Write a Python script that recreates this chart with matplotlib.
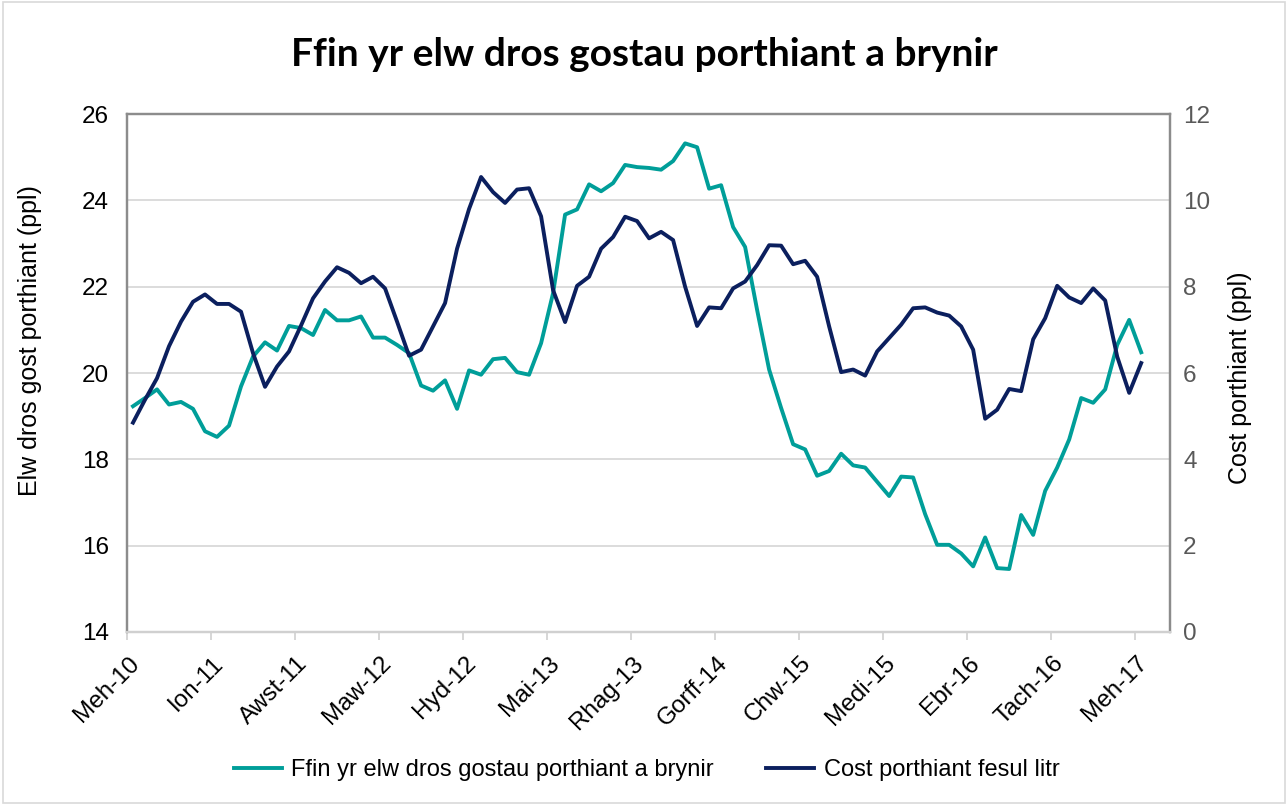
import matplotlib
matplotlib.use("Agg")
import matplotlib.pyplot as plt
import matplotlib.transforms as mtransforms
from matplotlib.patches import Rectangle

# ---- data ----
tick_labels = ["Meh-10", "Ion-11", "Awst-11", "Maw-12", "Hyd-12", "Mai-13", "Rhag-13",
               "Gorff-14", "Chw-15", "Medi-15", "Ebr-16", "Tach-16", "Meh-17"]

margin = [19.23, 19.42, 19.62, 19.27, 19.33, 19.17, 18.65, 18.52, 18.78, 19.69,
          20.38, 20.71, 20.52, 21.09, 21.04, 20.88, 21.46, 21.22, 21.22, 21.31,
          20.82, 20.82, 20.65, 20.46, 19.71, 19.59, 19.83, 19.17, 20.06, 19.96,
          20.32, 20.35, 20.02, 19.96, 20.69, 21.85, 23.67, 23.79, 24.37, 24.21,
          24.40, 24.82, 24.77, 24.75, 24.71, 24.91, 25.32, 25.23, 24.27, 24.35,
          23.38, 22.92, 21.46, 20.08, 19.19, 18.35, 18.23, 17.62, 17.73, 18.13,
          17.86, 17.81, 17.48, 17.15, 17.60, 17.58, 16.73, 16.02, 16.02, 15.82,
          15.52, 16.19, 15.48, 15.46, 16.71, 16.25, 17.27, 17.81, 18.46, 19.42,
          19.31, 19.62, 20.65, 21.23, 20.48]

feed_cost = [4.85, 5.38, 5.88, 6.62, 7.19, 7.65, 7.82, 7.60, 7.60, 7.42,
             6.46, 5.68, 6.15, 6.50, 7.10, 7.73, 8.12, 8.45, 8.32, 8.08,
             8.23, 7.96, 7.19, 6.40, 6.54, 7.08, 7.62, 8.88, 9.80, 10.54,
             10.19, 9.94, 10.25, 10.28, 9.63, 7.92, 7.18, 8.02, 8.23, 8.88,
             9.15, 9.62, 9.52, 9.12, 9.27, 9.08, 8.00, 7.09, 7.52, 7.50,
             7.96, 8.12, 8.50, 8.96, 8.95, 8.52, 8.60, 8.23, 7.08, 6.02,
             6.08, 5.94, 6.50, 6.81, 7.12, 7.50, 7.52, 7.40, 7.33, 7.08,
             6.54, 4.94, 5.15, 5.63, 5.58, 6.78, 7.27, 8.02, 7.75, 7.62,
             7.96, 7.68, 6.38, 5.54, 6.23]

series_names = ["Ffin yr elw dros gostau porthiant a brynir", "Cost porthiant fesul litr"]
title = "Ffin yr elw dros gostau porthiant a brynir"
ylabel_left = "Elw dros gost porthiant (ppl)"
ylabel_right = "Cost porthiant (ppl)"

green = "#009E99"
navy = "#0B1F5E"

plt.rcParams['font.family'] = ['Liberation Sans', 'DejaVu Sans']

W, H = 1288, 805
fig = plt.figure(figsize=(W / 100, H / 100), dpi=100)
fig.patches.append(Rectangle((0.002, 0.003), 0.996, 0.994, transform=fig.transFigure,
                             fill=False, edgecolor="#d9d9d9", linewidth=1.2))

l, r, t, b = 127 / W, 1170 / W, 114 / H, 632 / H
ax = fig.add_axes([l, 1 - b, r - l, b - t])
ax2 = ax.twinx()

x = list(range(len(margin)))
ax.plot(x, margin, color=green, lw=2.8, solid_joinstyle='round', label=series_names[0])
ax2.plot(x, feed_cost, color=navy, lw=2.8, solid_joinstyle='round', label=series_names[1])

ax.set_xlim(-0.5, 86.4)
ax.set_ylim(14, 26)
ax2.set_ylim(0, 12)
ax.set_yticks(range(14, 27, 2))
ax2.set_yticks(range(0, 13, 2))

ticks = [-0.5 + 7 * i for i in range(len(tick_labels))]
ax.set_xticks(ticks)
ax.set_xticklabels([])
lab_tr = ax.get_xaxis_transform() + mtransforms.ScaledTranslation(9 / 100, -28 / 100, fig.dpi_scale_trans)
for tk, lab in zip(ticks, tick_labels):
    ax.text(tk, 0, lab, transform=lab_tr, rotation=45, ha='right', va='center',
            rotation_mode='anchor', fontsize=17.5, color='black', clip_on=False)

ax.tick_params(axis='x', length=6, width=1.2, color="#d0d0d0")
ax.tick_params(axis='y', length=0, labelsize=17.5, pad=13, labelcolor="black")
ax2.tick_params(axis='y', length=0, labelsize=17.5, pad=9.5, labelcolor="#595959")

ax.grid(axis='y', color="#d9d9d9", lw=1.3)
ax.set_axisbelow(True)

for a in (ax, ax2):
    for s in ('top', 'left', 'right'):
        a.spines[s].set_color("#8c8c8c")
        a.spines[s].set_linewidth(1.6)
    a.spines['bottom'].set_color("#d0d0d0")
    a.spines['bottom'].set_linewidth(1.6)

fig.text(30 / W, 1 - 341 / H, ylabel_left, rotation=90, ha='center', va='center', fontsize=18)
fig.text(1240 / W, 1 - 378 / H, ylabel_right, rotation=90, ha='center', va='center', fontsize=18)

fig.text(0.5, 1 - 55 / H, title, ha='center', va='center', fontsize=28, fontweight='bold',
         family=['Lato', 'DejaVu Sans'])

h1, l1 = ax.get_legend_handles_labels()
h2, l2 = ax2.get_legend_handles_labels()
fig.legend(h1 + h2, l1 + l2, loc='center', bbox_to_anchor=(0.502, 1 - 770 / H), ncol=2,
           frameon=False, fontsize=17, handlelength=2.05, columnspacing=2.2, handletextpad=0.4)

fig.savefig("out.png", dpi=100)
